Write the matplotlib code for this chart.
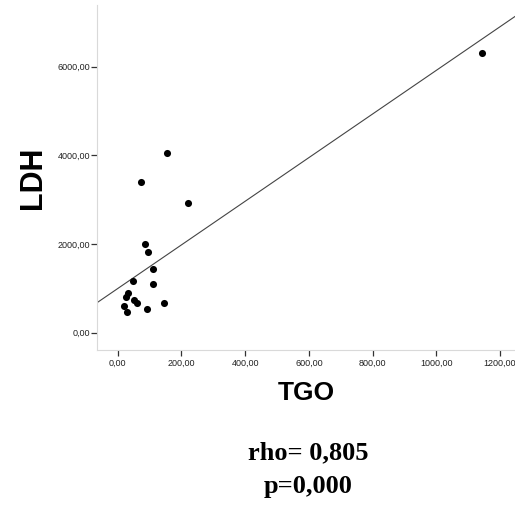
import matplotlib
matplotlib.use("Agg")
import matplotlib.pyplot as plt
from matplotlib.ticker import FuncFormatter

# TGO vs LDH
tgo = [155, 73, 220, 87, 95, 112, 47, 110, 33, 27, 52, 61, 20, 29, 92, 144, 1142]
ldh = [4059, 3405, 2931, 2007, 1826, 1443, 1159, 1098, 888, 812, 744, 670, 609, 467, 541, 676, 6300]

# fitted line
intercept = 996
slope = 4.92

xticks = [0, 200, 400, 600, 800, 1000, 1200]
yticks = [0, 2000, 4000, 6000]

fig = plt.figure(figsize=(5.15, 5.07), dpi=100)
ax = fig.add_axes([97 / 515, 157 / 507, 418 / 515, 345 / 507])

ax.scatter(tgo, ldh, s=26, color="black", zorder=3, linewidths=0)
ax.axline((0, intercept), slope=slope, color="#444444", lw=0.8)

ax.set_xlim(-65, 1247)
ax.set_ylim(-390, 7390)
ax.set_xticks(xticks)
ax.set_yticks(yticks)

comma = FuncFormatter(lambda v, p: f"{v:.2f}".replace(".", ","))
ax.xaxis.set_major_formatter(comma)
ax.yaxis.set_major_formatter(comma)

for s in ["top", "right"]:
    ax.spines[s].set_visible(False)
for s in ["left", "bottom"]:
    ax.spines[s].set_color("#d9d9d9")
    ax.spines[s].set_linewidth(0.8)

ax.tick_params(axis="both", direction="out", length=4, width=0.9, color="#333333",
               labelsize=6.5, labelcolor="#222222")
ax.tick_params(axis="y", pad=1)
ax.tick_params(axis="x", pad=2)
for lab in ax.get_xticklabels() + ax.get_yticklabels():
    lab.set_family("Liberation Sans")

ax.set_ylabel("LDH", fontsize=22, fontweight="bold", family="Liberation Sans", labelpad=7)
ax.set_xlabel("TGO", fontsize=19, fontweight="bold", family="Liberation Sans", labelpad=10)

fig.text(308 / 515, 1 - 453 / 507, "rho= 0,805", ha="center", va="center",
         fontsize=19, fontweight="bold", family="Liberation Serif")
fig.text(308 / 515, 1 - 487 / 507, "p=0,000", ha="center", va="center",
         fontsize=19, fontweight="bold", family="Liberation Serif")

fig.savefig("out.png", dpi=100)
